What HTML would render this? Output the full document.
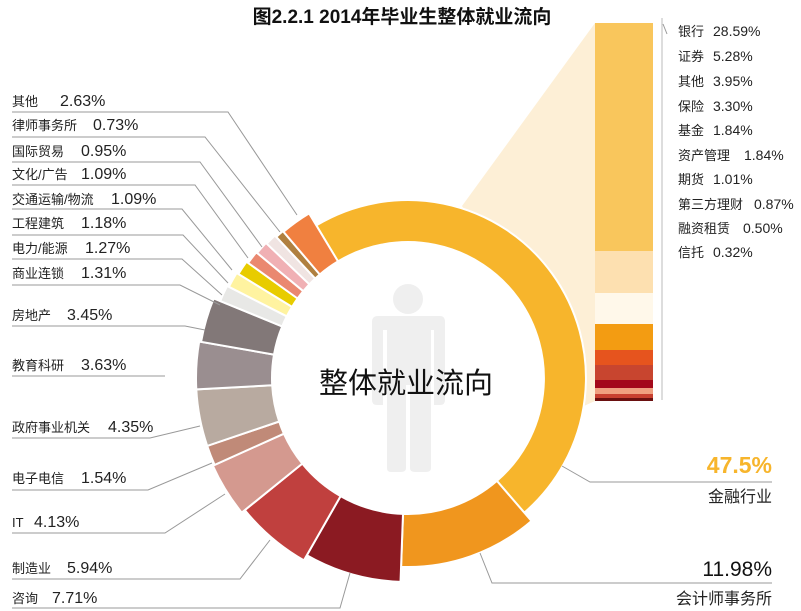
<!DOCTYPE html>
<html><head><meta charset="utf-8"><style>
html,body{margin:0;padding:0;background:#fff;width:801px;height:611px;overflow:hidden}
svg{display:block}
text{font-family:"Liberation Sans","Noto Sans CJK SC",sans-serif}
</style></head><body>
<svg id="s" width="801" height="611" viewBox="0 0 801 611" xmlns="http://www.w3.org/2000/svg">
<text x="402" y="23" text-anchor="middle" font-size="19" font-weight="bold" fill="#111">图2.2.1  2014年毕业生整体就业流向</text>
<polygon points="462,206 595,23 595,401 575,410" fill="#fdefd6"/>
<circle cx="408" cy="378" r="137" fill="#fff"/>
<g id="ring"></g>
<!-- person -->
<g fill="#efefef">
<circle cx="408" cy="299" r="15"/>
<path d="M378,316 H440 Q445,316 445,322 V400 Q445,405 440,405 H434 V330 H431 V468 Q431,472 426,472 H415 Q410,472 410,468 V385 H406 V468 Q406,472 401,472 H391 Q387,472 387,468 V330 H383 V405 H377 Q372,405 372,400 V322 Q372,316 378,316 Z"/>
</g>
<text x="406" y="393" text-anchor="middle" font-size="29" fill="#111">整体就业流向</text>
<!-- bar -->
<rect x="595" y="23" width="58" height="228" fill="#f9c65c"/>
<rect x="595" y="251" width="58" height="42" fill="#fde0b0"/>
<rect x="595" y="293" width="58" height="31" fill="#fff8ea"/>
<rect x="595" y="324" width="58" height="26" fill="#f39c12"/>
<rect x="595" y="350" width="58" height="15" fill="#e6541e"/>
<rect x="595" y="365" width="58" height="15" fill="#c8452f"/>
<rect x="595" y="380" width="58" height="8" fill="#a3081b"/>
<rect x="595" y="388" width="58" height="6" fill="#f0a080"/>
<rect x="595" y="394" width="58" height="4" fill="#c84030"/>
<rect x="595" y="398" width="58" height="3" fill="#6a1010"/>
<line x1="662" y1="18" x2="662" y2="400" stroke="#bbb" stroke-width="1"/>
<line x1="663" y1="24" x2="667" y2="34" stroke="#999" stroke-width="1"/>
<g font-size="13" fill="#222">
<text x="678" y="36">银行<tspan x="713" font-size="14">28.59%</tspan></text>
<text x="678" y="61">证券<tspan x="713" font-size="14">5.28%</tspan></text>
<text x="678" y="86">其他<tspan x="713" font-size="14">3.95%</tspan></text>
<text x="678" y="111">保险<tspan x="713" font-size="14">3.30%</tspan></text>
<text x="678" y="135">基金<tspan x="713" font-size="14">1.84%</tspan></text>
<text x="678" y="160">资产管理<tspan x="744" font-size="14">1.84%</tspan></text>
<text x="678" y="184">期货<tspan x="713" font-size="14">1.01%</tspan></text>
<text x="678" y="209">第三方理财<tspan x="754" font-size="14">0.87%</tspan></text>
<text x="678" y="233">融资租赁<tspan x="743" font-size="14">0.50%</tspan></text>
<text x="678" y="257">信托<tspan x="713" font-size="14">0.32%</tspan></text>
</g>
<!-- right labels -->
<text x="772" y="473" text-anchor="end" font-size="23" font-weight="bold" fill="#f7b52c">47.5%</text>
<polyline points="562,466 590,482 772,482" fill="none" stroke="#999"/>
<text x="772" y="502" text-anchor="end" font-size="16" fill="#222">金融行业</text>
<text x="772" y="576" text-anchor="end" font-size="21" fill="#111">11.98%</text>
<polyline points="480,553 492,583 772,583" fill="none" stroke="#999"/>
<text x="772" y="604" text-anchor="end" font-size="16" fill="#222">会计师事务所</text>
<!-- left labels -->
<g fill="none" stroke="#999" stroke-width="1">
<polyline points="12,112 228,112 297,215"/>
<polyline points="12,137 205,137 280,232"/>
<polyline points="12,162 200,162 262,247"/>
<polyline points="12,185 195,185 248,258"/>
<polyline points="12,209 182,209 232,270"/>
<polyline points="12,235 183,235 228,283"/>
<polyline points="12,259 182,259 222,295"/>
<polyline points="12,285 180,285 220,305"/>
<polyline points="12,326 185,326 205,330"/>
<polyline points="12,376 165,376"/>
<polyline points="12,438 150,438 200,426"/>
<polyline points="12,490 148,490 212,463"/>
<polyline points="12,533 165,533 225,494"/>
<polyline points="12,579 240,579 270,540"/>
<polyline points="12,608 340,608 350,573"/>
</g>
<g font-size="13" fill="#222">
<text x="12" y="106">其他<tspan x="60" font-size="16">2.63%</tspan></text>
<text x="12" y="130">律师事务所<tspan x="93" font-size="16">0.73%</tspan></text>
<text x="12" y="156">国际贸易<tspan x="81" font-size="16">0.95%</tspan></text>
<text x="12" y="179">文化/广告<tspan x="81" font-size="16">1.09%</tspan></text>
<text x="12" y="204">交通运输/物流<tspan x="111" font-size="16">1.09%</tspan></text>
<text x="12" y="228">工程建筑<tspan x="81" font-size="16">1.18%</tspan></text>
<text x="12" y="253">电力/能源<tspan x="85" font-size="16">1.27%</tspan></text>
<text x="12" y="278">商业连锁<tspan x="81" font-size="16">1.31%</tspan></text>
<text x="12" y="320">房地产<tspan x="67" font-size="16">3.45%</tspan></text>
<text x="12" y="370">教育科研<tspan x="81" font-size="16">3.63%</tspan></text>
<text x="12" y="432">政府事业机关<tspan x="108" font-size="16">4.35%</tspan></text>
<text x="12" y="483">电子电信<tspan x="81" font-size="16">1.54%</tspan></text>
<text x="12" y="527">IT<tspan x="34" font-size="16">4.13%</tspan></text>
<text x="12" y="573">制造业<tspan x="67" font-size="16">5.94%</tspan></text>
<text x="12" y="603">咨询<tspan x="52" font-size="16">7.71%</tspan></text>
</g>
</svg>
<script>
var segs=[[47.5,'#f7b52c',178],[11.98,'#f0961e',189],[7.71,'#8b1a22',204],[5.94,'#c0403e',210],[4.13,'#d4998f',214],[1.54,'#c08a78',212],[4.35,'#b8aaa0',212],[3.63,'#9a8e90',212],[3.45,'#827878',210],[1.31,'#e8e8e6',203],[1.27,'#fff3a0',201],[1.18,'#e8cc00',199],[1.09,'#ea8870',197],[1.09,'#f0b0b4',196],[0.95,'#f0e4e2',195],[0.73,'#b08040',193],[2.63,'#f08040',192]];
var tot=0;segs.forEach(function(s){tot+=s[0]});
var cx=408,cy=378,ri=136,a=-31,g=document.getElementById('ring'),h='';
function p(r,d){var t=d*Math.PI/180;return (cx+r*Math.sin(t)).toFixed(1)+','+(cy-r*Math.cos(t)).toFixed(1)}
segs.forEach(function(s){var sw=s[0]/tot*360,b=a+sw,l=sw>180?1:0,R=s[2];
h+='<path d="M'+p(ri,a)+' L'+p(R,a)+' A'+R+','+R+' 0 '+l+' 1 '+p(R,b)+' L'+p(ri,b)+' A'+ri+','+ri+' 0 '+l+' 0 '+p(ri,a)+'Z" fill="'+s[1]+'" stroke="#fff" stroke-width="2"/>';a=b;});
g.innerHTML=h;
</script>
</body></html>
